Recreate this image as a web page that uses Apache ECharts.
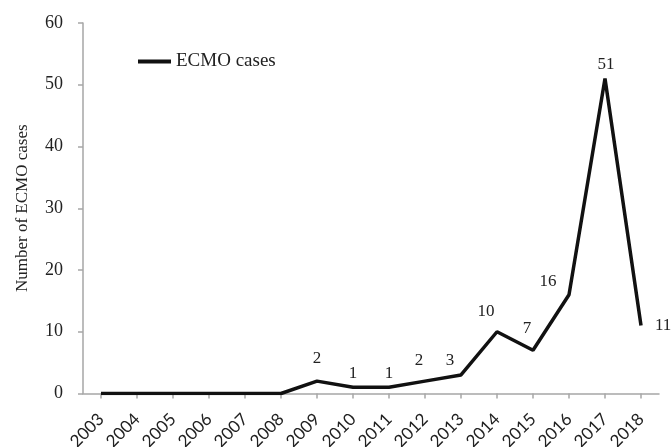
<!DOCTYPE html>
<html>
<head>
<meta charset="utf-8">
<script src="https://cdn.jsdelivr.net/npm/echarts@6/dist/echarts.min.js"></script>
<style>html,body{margin:0;padding:0;background:#fff}#c{width:672px;height:447px}</style>
</head>
<body>
<div id="c"></div>
<script>
const years = ['2003','2004','2005','2006','2007','2008','2009','2010','2011','2012','2013','2014','2015','2016','2017','2018'];
const ecmoCases = [0,0,0,0,0,0,2,1,1,2,3,10,7,16,51,11];
const yTicks = {min: 0, max: 60, interval: 10};

// label placement (style only, not data)
const labelOffsets = [null,null,null,null,null,null,[0,-9],[0,0],[0,0],[-6,-7],[-11,-1],[-11,-7],[-6,-8],[-21,0],[1,-1],[9,0]];
const labelPositions = ['top','top','top','top','top','top','top','top','top','top','top','top','top','top','top','right'];

const serif = '"Liberation Serif", "DejaVu Serif", serif';
const seriesData = ecmoCases.map((v, i) => ({
  value: v,
  label: labelOffsets[i] ? {show: true, position: labelPositions[i], offset: labelOffsets[i]} : {show: false}
}));

const chart = echarts.init(document.getElementById('c'), null, {renderer: 'canvas'});
chart.setOption({
  animation: false,
  backgroundColor: '#fff',
  grid: {left: 83, right: 13, top: 23, bottom: 53.5, containLabel: false, outerBoundsMode: 'none'},
  legend: {
    left: 133, top: 47,
    icon: 'rect', itemWidth: 33, itemHeight: 4, itemGap: 10,
    textStyle: {fontFamily: serif, fontSize: 19, color: '#222'},
    data: ['ECMO cases']
  },
  xAxis: {
    type: 'category',
    data: years,
    boundaryGap: true,
    axisLine: {lineStyle: {color: '#a6a6a6', width: 1.5}},
    axisTick: {show: true, alignWithLabel: true, length: 5, lineStyle: {color: '#a6a6a6', width: 1.5}},
    axisLabel: {rotate: 45, interval: 0, fontFamily: 'Lato, "Liberation Sans", sans-serif', fontSize: 17, color: '#222', margin: 23},
    splitLine: {show: false}
  },
  yAxis: {
    type: 'value',
    min: yTicks.min, max: yTicks.max, interval: yTicks.interval,
    name: 'Number of ECMO cases',
    nameLocation: 'middle',
    nameGap: 52,
    nameTextStyle: {fontFamily: serif, fontSize: 17, color: '#222'},
    axisLine: {show: true, lineStyle: {color: '#a6a6a6', width: 1.5}},
    axisTick: {show: true, length: 5, lineStyle: {color: '#a6a6a6', width: 1.5}},
    axisLabel: {fontFamily: serif, fontSize: 18, color: '#222', margin: 20},
    splitLine: {show: false}
  },
  series: [{
    name: 'ECMO cases',
    type: 'line',
    data: seriesData,
    symbol: 'circle',
    symbolSize: 0,
    showSymbol: true,
    lineStyle: {color: '#111', width: 3.5, join: 'bevel'},
    itemStyle: {color: '#111'},
    label: {fontFamily: serif, fontSize: 17, color: '#222'}
  }]
});
</script>
</body>
</html>
